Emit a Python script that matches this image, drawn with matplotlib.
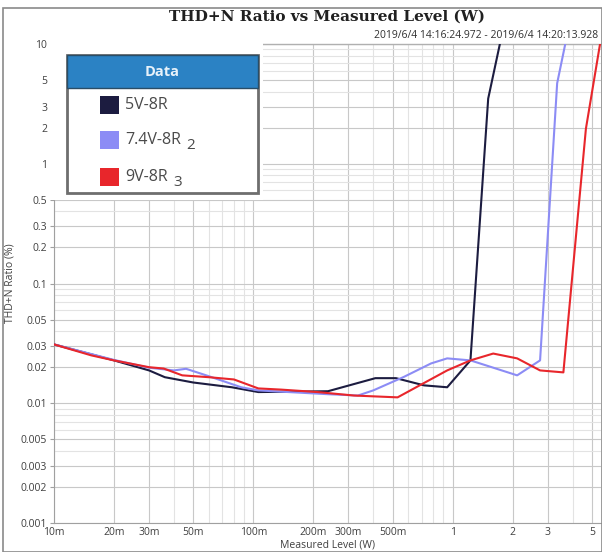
import matplotlib
matplotlib.use('Agg')
import matplotlib.pyplot as plt
from matplotlib.patches import Rectangle
from matplotlib.ticker import FixedLocator, NullFormatter, LogLocator

# Data
x_5v = [0.01, 0.02, 0.03, 0.036, 0.05, 0.078, 0.106, 0.237, 0.41, 0.52, 0.72, 0.94, 1.23, 1.51, 1.85]
y_5v = [0.031, 0.0228, 0.0188, 0.0165, 0.0149, 0.0136, 0.0124, 0.0126, 0.0162, 0.0162, 0.0141, 0.0136, 0.0228, 3.5, 17]

x_74v = [0.01, 0.02, 0.03, 0.04, 0.046, 0.06, 0.087, 0.106, 0.237, 0.335, 0.40, 0.57, 0.78, 0.94, 1.23, 2.11, 2.75, 3.35, 3.9]
y_74v = [0.031, 0.023, 0.0198, 0.0188, 0.0194, 0.0168, 0.0136, 0.0128, 0.0119, 0.0116, 0.0128, 0.0166, 0.0215, 0.0237, 0.0228, 0.0171, 0.0228, 4.7, 16]

x_9v = [0.01, 0.0154, 0.02, 0.03, 0.0355, 0.044, 0.06, 0.080, 0.106, 0.138, 0.21, 0.32, 0.53, 0.94, 1.23, 1.6, 2.11, 2.75, 3.6, 4.67, 5.6]
y_9v = [0.031, 0.0251, 0.0228, 0.0200, 0.0195, 0.0171, 0.0165, 0.0158, 0.0133, 0.0130, 0.0124, 0.0116, 0.0112, 0.0188, 0.0228, 0.026, 0.0237, 0.0188, 0.0181, 1.96, 12]

series_names = ['5V-8R', '7.4V-8R', '9V-8R']
series_subs = ['', '2', '3']
series_colors = ['#1c1c40', '#8c8cf5', '#e8262b']

x_ticks = [0.01, 0.02, 0.03, 0.05, 0.1, 0.2, 0.3, 0.5, 1, 2, 3, 5]
x_labels = ['10m', '20m', '30m', '50m', '100m', '200m', '300m', '500m', '1', '2', '3', '5']
y_ticks = [0.001, 0.002, 0.003, 0.005, 0.01, 0.02, 0.03, 0.05, 0.1, 0.2, 0.3, 0.5, 1, 2, 3, 5, 10]
y_labels = ['0.001', '0.002', '0.003', '0.005', '0.01', '0.02', '0.03', '0.05', '0.1', '0.2', '0.3', '0.5',
            '1', '2', '3', '5', '10']

plt.rcParams['font.family'] = ['Open Sans', 'DejaVu Sans']

W, H = 602, 552
fig = plt.figure(figsize=(W / 100, H / 100), dpi=100)

# outer frame of the screenshot
fig.patches.append(Rectangle((3 / W, 0), (W - 3) / W, (H - 8) / H, transform=fig.transFigure,
                             fill=False, edgecolor='#8a8a8a', linewidth=1.2))

left, right, top, bottom = 54, 601, 44, 523
ax = fig.add_axes([left / W, 1 - bottom / H, (right - left) / W, (bottom - top) / H])
ax.set_xscale('log')
ax.set_yscale('log')
ax.set_xlim(0.01, 5.56)
ax.set_ylim(0.001, 10)

for xs, ys, c in zip([x_5v, x_74v, x_9v], [y_5v, y_74v, y_9v], series_colors):
    ax.plot(xs, ys, color=c, linewidth=1.5, zorder=3)

ax.xaxis.set_major_locator(FixedLocator(x_ticks))
ax.set_xticklabels(x_labels)
ax.yaxis.set_major_locator(FixedLocator(y_ticks))
ax.set_yticklabels(y_labels)
ax.xaxis.set_minor_locator(LogLocator(base=10, subs=range(1, 10)))
ax.yaxis.set_minor_locator(LogLocator(base=10, subs=range(1, 10)))
ax.xaxis.set_minor_formatter(NullFormatter())
ax.yaxis.set_minor_formatter(NullFormatter())
ax.grid(True, which='minor', color='#e3e3e3', linewidth=0.8)
ax.grid(True, which='major', color='#c8c8c8', linewidth=0.8)
ax.set_axisbelow(True)
ax.tick_params(which='minor', length=0)
ax.tick_params(which='major', length=3, width=0.8, color='#a0a0a0', labelsize=7.5,
               labelcolor='#404040', pad=2)
ax.tick_params(axis='x', length=0, pad=3)

for s in ['top', 'right']:
    ax.spines[s].set_visible(False)
ax.spines['left'].set_color('#a0a0a0')
ax.spines['bottom'].set_color('#a0a0a0')
ax.plot([0, 1], [1, 1], transform=ax.transAxes, color='#b0b0b0', linewidth=1, clip_on=False, zorder=2)

# the legend panel blanks out the top-left corner of the plot
ax.add_patch(Rectangle((-6 / (right - left), (bottom - 200) / (bottom - top)),
                       (263 - left + 6) / (right - left), 1.0, transform=ax.transAxes,
                       facecolor='white', edgecolor='none', zorder=4, clip_on=False))

ax.set_xlabel('Measured Level (W)', fontsize=7.5, color='#404040', labelpad=1)
ax.set_ylabel('THD+N Ratio (%)', fontsize=7.5, color='#404040', labelpad=4)

# title and time stamp
fig.text(327 / W, 1 - 17 / H, 'THD+N Ratio vs Measured Level (W)', ha='center', va='center',
         fontsize=11, fontweight='bold', family='DejaVu Serif', color='#202020')
fig.text(598 / W, 1 - 36 / H, '2019/6/4 14:16:24.972 - 2019/6/4 14:20:13.928', ha='right',
         va='center', fontsize=7.5, color='#303030')

# legend box
lx0, lx1, ly0, ly1 = 67, 258, 55, 193
fig.patches.append(Rectangle((lx0 / W, 1 - ly1 / H), (lx1 - lx0) / W, (ly1 - ly0) / H,
                             transform=fig.transFigure, facecolor='white', edgecolor='#6e6e6e',
                             linewidth=2, zorder=5))
fig.patches.append(Rectangle((lx0 / W, 1 - 88 / H), (lx1 - lx0) / W, (88 - ly0) / H,
                             transform=fig.transFigure, facecolor='#2b82c4', edgecolor='#2a4d66',
                             linewidth=1, zorder=6))
fig.text((lx0 + lx1) / 2 / W, 1 - 72 / H, 'Data', ha='center', va='center', fontsize=10.5,
         fontweight='bold', color='#e8f2fa', zorder=7)
entry_y = [105, 140, 177]
for name, sub, c, yy in zip(series_names, series_subs, series_colors, entry_y):
    fig.patches.append(Rectangle((100 / W, 1 - (yy + 9) / H), 19 / W, 18 / H,
                                 transform=fig.transFigure, facecolor=c, edgecolor='none', zorder=7))
    t = fig.text(125 / W, 1 - yy / H, name, ha='left', va='center', fontsize=11.5,
                 color='#4a4a4a', zorder=7)
    if sub:
        fig.add_artist(plt.Annotation(sub, xy=(1, 0.5), xycoords=t, xytext=(4, -4),
                                      textcoords='offset points', ha='left', va='center',
                                      fontsize=11, color='#4a4a4a', zorder=7))

fig.savefig('out.png', dpi=100)
